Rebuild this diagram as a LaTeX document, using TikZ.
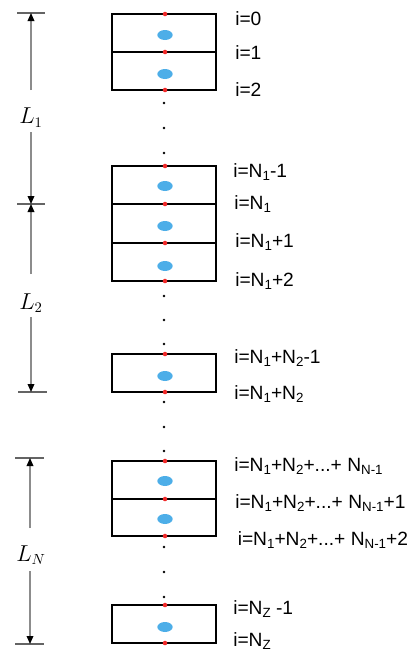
\documentclass[tikz,border=0pt]{standalone}
\usepackage[no-math]{fontspec}
\setmainfont{Liberation Sans}
\usetikzlibrary{arrows.meta,shapes.geometric}
\definecolor{cellblue}{RGB}{77,174,232}
\definecolor{dotred}{RGB}{240,40,40}
\definecolor{shaftgray}{RGB}{140,140,140}
\definecolor{tickgray}{RGB}{100,100,100}
\newcommand\sbs[1]{\raisebox{-2.9pt}{\fontsize{10}{11}\selectfont #1}}
\begin{document}
\begin{tikzpicture}[x=0.75pt,y=-0.75pt,
  cell/.style={line width=1.3pt},
  thickdiv/.style={line width=1.8pt},
  rdot/.style={circle, fill=dotred, inner sep=0pt, minimum size=3.4pt},
  bdot/.style={circle, fill=black, inner sep=0pt, minimum size=2pt},
  blob/.style={ellipse, fill=cellblue, inner sep=0pt, minimum width=11.5pt, minimum height=7.5pt},
  lab/.style={anchor=base west, inner sep=0pt, font=\fontsize{14.4}{16}\selectfont},
  dimlab/.style={inner sep=0pt, font=\fontsize{16}{18}\selectfont},
  shaft/.style={draw=shaftgray, line width=0.9pt, -{Triangle[length=6pt,width=5pt,fill=black,color=black]}},
  tick/.style={draw=tickgray, line width=0.9pt}]
\useasboundingbox (0,0) rectangle (417,653);
% cells
\draw[cell] (112,14) rectangle (216,90);
\draw[thickdiv] (112,52) -- (216,52);
\draw[cell] (112,166) rectangle (216,281);
\draw[thickdiv] (112,204) -- (216,204);
\draw[cell] (112,243) -- (216,243);
\draw[cell] (112,354) rectangle (216,392);
\draw[cell] (112,461) rectangle (216,536);
\draw[cell] (112,499) -- (216,499);
\draw[cell] (112,605) rectangle (216,643);
% blue cell centres
\foreach \y [count=\k] in {35,74,186,226,266,376,481,519,627}
  \node[blob] (c\k) at (165,\y) {};
% red interface points
\foreach \y [count=\k] in {14,52,90,166,204,243,281,354,392,461,499,536,605,643}
  \node[rdot] (r\k) at (165,\y) {};
% black ellipsis dots
\foreach \y [count=\k] in {103,128,153,296,320,344,402,427,451,547,572,597}
  \node[bdot] (d\k) at (164,\y) {};
% labels
\node[lab] (l0) at (235,26) {i=0};
\node[lab] (l1) at (235,59) {i=1};
\node[lab] (l2) at (235,96) {i=2};
\node[lab] (l3) at (233,177) {i=N\sbs{1}-1};
\node[lab] (l4) at (234,209) {i=N\sbs{1}};
\node[lab] (l5) at (235,247) {i=N\sbs{1}+1};
\node[lab] (l6) at (235,286) {i=N\sbs{1}+2};
\node[lab] (l7) at (234,363) {i=N\sbs{1}+N\sbs{2}-1};
\node[lab] (l8) at (234,399) {i=N\sbs{1}+N\sbs{2}};
\node[lab] (l9) at (234,471) {i=N\sbs{1}+N\sbs{2}+...+ N\sbs{N-1}};
\node[lab] (l10) at (235,508) {i=N\sbs{1}+N\sbs{2}+...+ N\sbs{N-1}+1};
\node[lab] (l11) at (237.5,545) {i=N\sbs{1}+N\sbs{2}+...+ N\sbs{N-1}+2};
\node[lab] (l12) at (233,614) {i=N\sbs{Z} -1};
\node[lab] (l13) at (233,646) {i=N\sbs{Z}};
% dimensions
\coordinate (t1) at (31,13);
\coordinate (t2) at (31,204);
\coordinate (t3) at (31,392);
\coordinate (t4) at (30,458);
\coordinate (t5) at (30,644);
\draw[tick] (17,13) -- (45,13);
\draw[tick] (17,204) -- (45,204);
\draw[tick] (18,392) -- (47,392);
\draw[tick] (15,458) -- (44,458);
\draw[tick] (15,644) -- (44,644);
\node[dimlab] (L1) at (31,117.5) {$L_1$};
\node[dimlab] (L2) at (31,303) {$L_2$};
\node[dimlab] (LN) at (31,555) {$L_N$};
\coordinate (g1a) at (31,90);
\coordinate (g1b) at (31,132);
\coordinate (g2a) at (31,274);
\coordinate (g2b) at (31,317);
\coordinate (g3a) at (30,528);
\coordinate (g3b) at (30,571);
\draw[shaft] (g1a) -- (t1);
\draw[shaft] (g1b) -- (t2);
\draw[shaft] (g2a) -- (t2);
\draw[shaft] (g2b) -- (t3);
\draw[shaft] (g3a) -- (t4);
\draw[shaft] (g3b) -- (t5);
\end{tikzpicture}
\end{document}
